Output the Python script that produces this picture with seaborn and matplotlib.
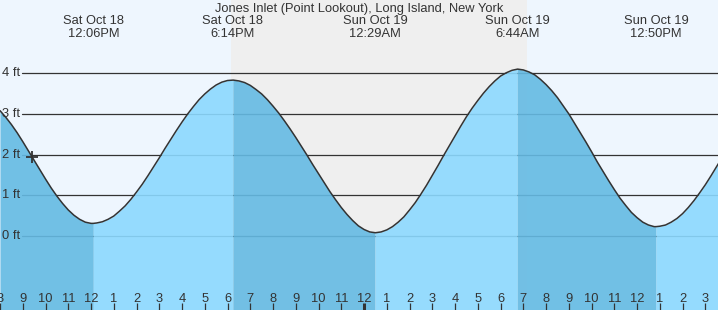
import matplotlib
matplotlib.use("Agg")
import matplotlib.pyplot as plt
import matplotlib.transforms as mtransforms
import pandas as pd
import seaborn as sns

# ---------------- data (hours since Sat Oct 18 00:00) ----------------
times = [8.00, 8.25, 8.50, 8.75, 9.00, 9.25, 9.50, 9.75,
         10.00, 10.25, 10.50, 10.75, 11.00, 11.25, 11.50, 11.75,
         12.00, 12.25, 12.50, 12.75, 13.00, 13.25, 13.50, 13.75,
         14.00, 14.25, 14.50, 14.75, 15.00, 15.25, 15.50, 15.75,
         16.00, 16.25, 16.50, 16.75, 17.00, 17.25, 17.50, 17.75,
         18.00, 18.25, 18.50, 18.75, 19.00, 19.25, 19.50, 19.75,
         20.00, 20.25, 20.50, 20.75, 21.00, 21.25, 21.50, 21.75,
         22.00, 22.25, 22.50, 22.75, 23.00, 23.25, 23.50, 23.75,
         24.00, 24.25, 24.50, 24.75, 25.00, 25.25, 25.50, 25.75,
         26.00, 26.25, 26.50, 26.75, 27.00, 27.25, 27.50, 27.75,
         28.00, 28.25, 28.50, 28.75, 29.00, 29.25, 29.50, 29.75,
         30.00, 30.25, 30.50, 30.75, 31.00, 31.25, 31.50, 31.75,
         32.00, 32.25, 32.50, 32.75, 33.00, 33.25, 33.50, 33.75,
         34.00, 34.25, 34.50, 34.75, 35.00, 35.25, 35.50, 35.75,
         36.00, 36.25, 36.50, 36.75, 37.00, 37.25, 37.50, 37.75,
         38.00, 38.25, 38.50, 38.75, 39.00, 39.25, 39.50, 39.75,
         40.00]
heights = [3.08, 2.92, 2.74, 2.54, 2.32, 2.09, 1.86, 1.63,
           1.40, 1.18, 0.98, 0.80, 0.64, 0.51, 0.41, 0.34,
           0.31, 0.32, 0.35, 0.41, 0.49, 0.61, 0.74, 0.90,
           1.08, 1.27, 1.48, 1.70, 1.92, 2.15, 2.37, 2.59,
           2.80, 3.00, 3.18, 3.35, 3.49, 3.61, 3.71, 3.78,
           3.82, 3.83, 3.81, 3.77, 3.70, 3.60, 3.49, 3.35,
           3.19, 3.02, 2.83, 2.63, 2.42, 2.20, 1.98, 1.75,
           1.53, 1.31, 1.09, 0.89, 0.70, 0.53, 0.38, 0.25,
           0.16, 0.10, 0.08, 0.10, 0.15, 0.23, 0.34, 0.47,
           0.64, 0.82, 1.03, 1.25, 1.49, 1.73, 1.98, 2.22,
           2.46, 2.70, 2.93, 3.14, 3.33, 3.51, 3.67, 3.81,
           3.93, 4.01, 4.07, 4.10, 4.08, 4.03, 3.96, 3.85,
           3.72, 3.57, 3.40, 3.20, 3.00, 2.77, 2.54, 2.31,
           2.07, 1.82, 1.59, 1.36, 1.14, 0.93, 0.75, 0.58,
           0.45, 0.34, 0.27, 0.23, 0.24, 0.27, 0.34, 0.43,
           0.55, 0.70, 0.87, 1.06, 1.26, 1.48, 1.71, 1.94,
           2.17]

extreme_times = [12.1, 18.233, 24.483, 30.733, 36.833]
extreme_heights = [0.31, 3.83, 0.08, 4.10, 0.23]
extreme_days = ["Sat Oct 18", "Sat Oct 18", "Sun Oct 19", "Sun Oct 19", "Sun Oct 19"]
extreme_clock = ["12:06PM", "6:14PM", "12:29AM", "6:44AM", "12:50PM"]

sunset = 18.14
sunrise = 31.17
now_time = 9.42
now_height = 1.95

hour_ticks = [8, 9, 10, 11, 12, 13, 14, 15, 16, 17, 18, 19, 20, 21, 22, 23,
              24, 25, 26, 27, 28, 29, 30, 31, 32, 33, 34, 35, 36, 37, 38, 39]
hour_labels = ["8", "9", "10", "11", "12", "1", "2", "3", "4", "5", "6", "7",
               "8", "9", "10", "11", "12", "1", "2", "3", "4", "5", "6", "7",
               "8", "9", "10", "11", "12", "1", "2", "3"]
midnight_tick = 24

y_ticks = [0, 1, 2, 3, 4]
y_labels = ["0 ft", "1 ft", "2 ft", "3 ft", "4 ft"]

title = "Jones Inlet (Point Lookout), Long Island, New York"

# ---------------- style ----------------
sns.set_style("white")
plt.rcParams["font.family"] = ["Liberation Sans", "DejaVu Sans"]

day_color = "#eef6fe"
night_color = "#efefef"
flood_color = "#8cd9ff"
ebb_color = "#64bae3"
ink = "#333333"

W, H = 718, 310
fig = plt.figure(figsize=(W / 100, H / 100), dpi=100)
ax = fig.add_axes([0, 0, 1, 1])
ax.set_facecolor(day_color)
ax.set_axisbelow(False)

xlim = (8.051, 39.556)
ylim = (-1.818, 5.798)
ax.set_xlim(*xlim)
ax.set_ylim(*ylim)

# night band
ax.axvspan(sunset, sunrise, color=night_color, lw=0, zorder=0)

# grid lines
for yv in y_ticks:
    ax.axhline(yv, xmin=22 / W, xmax=1, color=ink, lw=0.9, zorder=1)

# curve table
df = pd.DataFrame({"t": times + extreme_times, "h": heights + extreme_heights})
df = df.sort_values("t").reset_index(drop=True)

# fills: ebb (falling) darker, flood (rising) lighter
bounds = [df["t"].min()] + extreme_times + [df["t"].max()]
for a, b in zip(bounds[:-1], bounds[1:]):
    seg = df[(df["t"] >= a) & (df["t"] <= b)]
    falling = seg["h"].iloc[0] > seg["h"].iloc[-1]
    ax.fill_between(seg["t"], ylim[0] - 1, seg["h"],
                    color=ebb_color if falling else flood_color,
                    alpha=0.9, lw=0, zorder=2)

sns.lineplot(data=df, x="t", y="h", color=ink, lw=1.1, ax=ax,
             estimator=None, sort=True, zorder=4)

# current time marker
ax.plot([now_time], [now_height], marker="+", color=ink, ms=8, mew=1.3,
        zorder=5, ls="none")

# y labels
ytrans = mtransforms.blended_transform_factory(ax.transAxes, ax.transData)
for yv, lab in zip(y_ticks, y_labels):
    ax.text(20.5 / W, yv, lab, transform=ytrans, ha="right", va="center",
            fontsize=9.3, color=ink, zorder=6)

# x ticks (hours)
ax.set_yticks([])
ax.set_xticks(hour_ticks)
ax.set_xticklabels(hour_labels)
ax.tick_params(axis="x", direction="in", length=5, width=0.9, color=ink,
               pad=-12.5, labelsize=9.3, labelcolor=ink, bottom=True, top=False)
for tk, hv in zip(ax.xaxis.get_major_ticks(), hour_ticks):
    tk.tick1line.set_zorder(6)
    tk.label1.set_zorder(6)
    if hv == midnight_tick:
        tk.tick1line.set_markeredgewidth(2.2)
ax.set_xlabel("")
ax.set_ylabel("")
for sp in ax.spines.values():
    sp.set_visible(False)

# header texts
xtrans = mtransforms.blended_transform_factory(ax.transData, ax.transAxes)
ax.text(0.5, 1 - 12 / H, title, transform=ax.transAxes, ha="center",
        va="baseline", fontsize=9.3, color=ink)
for tx, d, c in zip(extreme_times, extreme_days, extreme_clock):
    ax.text(tx, 1 - 24.5 / H, d, transform=xtrans, ha="center",
            va="baseline", fontsize=9.3, color=ink)
    ax.text(tx, 1 - 37 / H, c, transform=xtrans, ha="center",
            va="baseline", fontsize=9.3, color=ink)

fig.savefig("out.png", dpi=100)
